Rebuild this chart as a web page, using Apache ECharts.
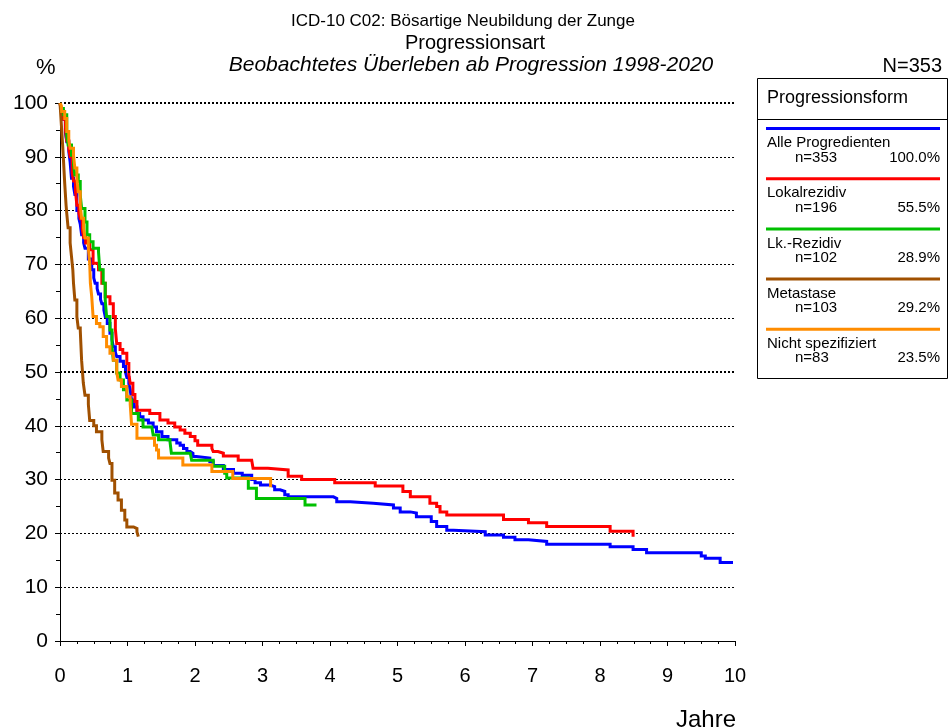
<!DOCTYPE html>
<html>
<head>
<meta charset="utf-8">
<script src="https://cdn.jsdelivr.net/npm/echarts@6/dist/echarts.min.js"></script>
<style>
  html, body { margin: 0; padding: 0; background: #fff; }
  #chart { width: 951px; height: 728px; }
</style>
</head>
<body>
<div id="chart"></div>
<script>
// Kaplan-Meier curves: [years since progression, % surviving]
const seriesNames = ['Alle Progredienten', 'Lokalrezidiv', 'Lk.-Rezidiv', 'Metastase', 'Nicht spezifiziert'];
const seriesCounts = ['n=353', 'n=196', 'n=102', 'n=103', 'n=83'];
const seriesShares = ['100.0%', '55.5%', '28.9%', '29.2%', '23.5%'];
const seriesColors = ['#0000ff', '#ff0000', '#00c000', '#a05000', '#ff8c00'];

const alle = [[0,100],[0.02,98.5],[0.05,97],[0.08,94.5],[0.1,92.8],[0.13,91],[0.15,89],[0.17,86],[0.2,84.5],[0.22,83],
  [0.25,80],[0.28,78.5],[0.3,77.5],[0.32,75.5],[0.35,74],[0.37,73],[0.42,71],[0.47,69],[0.5,67.5],[0.52,66.5],
  [0.55,65.5],[0.57,64.5],[0.6,63.5],[0.62,62.7],[0.65,61.5],[0.67,60.3],[0.7,59],[0.74,57.2],[0.77,56],[0.79,54.7],
  [0.82,53.7],[0.84,52.9],[0.89,52],[0.94,51],[0.97,50],[0.99,49],[1.02,47.8],[1.04,46.7],[1.06,44.8],[1.1,43.5],
  [1.14,42.3],[1.18,41.7],[1.23,41.1],[1.31,40.5],[1.38,39.8],[1.43,38.9],[1.51,38],[1.6,37.4],[1.73,36.8],[1.78,36.4],
  [1.83,35.8],[1.88,35.2],[1.93,34.9],[1.97,34.3],[2.02,34],[2.22,33.3],[2.27,32.6],[2.42,31.9],[2.57,31.2],[2.7,30.8],
  [2.84,30.0],[2.89,29.4],[2.97,29.0],[3.11,28.7],[3.18,28.1],[3.26,27.8],[3.33,27.2],[3.38,26.8],[4.05,26.5],[4.1,25.9],
  [4.3,25.6],[4.64,25.3],[4.94,24.7],[5.04,24.0],[5.19,23.8],[5.28,23.1],[5.5,22.2],[5.58,21.3],[5.73,20.6],[5.83,20.3],
  [6.3,19.7],[6.57,19.3],[6.74,18.8],[6.94,18.5],[7.21,18.0],[8.15,17.5],[8.49,17.0],[8.69,16.4],[9.5,15.8],[9.56,15.4],
  [9.78,14.6],[9.97,14.6]];

const lokalrezidiv = [[0,100],[0.02,98.5],[0.05,97],[0.08,95],[0.1,93],[0.13,91.5],[0.15,90],[0.18,87],[0.2,85.5],[0.23,83.5],
  [0.25,81],[0.28,79.5],[0.3,78.5],[0.33,76.5],[0.35,75],[0.38,74],[0.44,72.7],[0.49,70.2],[0.57,69],[0.62,66.5],
  [0.67,64],[0.74,62.7],[0.79,60.3],[0.82,58],[0.84,55.3],[0.89,54.2],[0.93,53.5],[0.99,51.6],[1.02,49.5],[1.04,47.9],
  [1.08,45.8],[1.11,44.5],[1.14,42.9],[1.33,42.3],[1.48,41.1],[1.6,40.5],[1.7,39.8],[1.78,39.2],[1.85,38.6],[1.93,38.0],
  [2.0,37.2],[2.04,36.4],[2.25,35.8],[2.27,35.2],[2.34,34.9],[2.42,34.4],[2.64,33.6],[2.84,33.3],[2.86,32.1],[3.08,31.8],
  [3.38,30.6],[3.58,30.0],[4.07,29.4],[4.67,28.8],[5.08,27.8],[5.19,26.8],[5.48,25.6],[5.58,25.0],[5.63,24.0],[5.73,23.4],
  [6.57,22.6],[6.94,22.0],[7.21,21.3],[8.15,20.4],[8.49,19.4]];

const lkRezidiv = [[0,100],[0.02,99],[0.05,97.8],[0.1,94],[0.12,92.2],[0.17,90.3],[0.2,88.5],[0.22,86.6],[0.27,85.4],[0.3,82.9],
  [0.32,80.4],[0.37,77.9],[0.4,75.5],[0.44,74.2],[0.49,73.0],[0.57,72.4],[0.59,69],[0.64,66.5],[0.67,63.4],[0.69,60.3],
  [0.74,57.8],[0.77,54.7],[0.79,52.2],[0.84,49.8],[0.89,48.5],[0.94,46.7],[0.99,44.8],[1.06,42.3],[1.16,41.1],[1.23,39.8],
  [1.36,39.5],[1.38,38.3],[1.46,37.4],[1.63,37.0],[1.65,34.9],[1.93,34.6],[1.95,33.6],[2.27,32.5],[2.44,31.2],[2.47,30.3],
  [2.79,28.4],[2.91,26.5],[3.63,25.3],[3.8,25.3]];

const metastase = [[0,100],[0.02,96],[0.04,92],[0.05,89.7],[0.07,85],[0.09,81],[0.1,79.5],[0.12,76.8],[0.15,74],[0.17,71.5],
  [0.19,69],[0.2,66.5],[0.22,63.4],[0.25,60.3],[0.27,58.2],[0.3,57.8],[0.31,55],[0.32,52.2],[0.345,48],[0.37,45.7],
  [0.42,44],[0.44,41],[0.5,40],[0.54,38.9],[0.62,37.4],[0.64,35.2],[0.72,34],[0.74,33],[0.77,29.9],[0.81,27.5],
  [0.86,26.2],[0.91,24.3],[0.96,22.5],[0.99,21.2],[1.09,20.9],[1.14,20.3],[1.16,19.4]];

const nichtSpezifiziert = [[0,100],[0.02,99.5],[0.025,98.4],[0.07,97.1],[0.1,94.7],[0.13,93],[0.15,91.6],[0.2,90.3],[0.22,87.9],[0.25,86],
  [0.27,83.5],[0.3,81],[0.32,78.6],[0.35,76.7],[0.37,74.9],[0.42,73],[0.44,70.2],[0.45,66.5],[0.47,64],[0.49,60.3],
  [0.54,59],[0.59,58.4],[0.64,56.6],[0.69,54.7],[0.74,53.5],[0.79,52.2],[0.84,50],[0.86,48.5],[0.91,47.3],[0.99,45.4],
  [1.04,44],[1.06,40.3],[1.14,37.7],[1.4,36.4],[1.43,35.5],[1.46,34.0],[1.82,32.7],[2.25,31.5],[2.56,30.2],[3.12,28.6]];

const curves = [alle, lokalrezidiv, lkRezidiv, metastase, nichtSpezifiziert];
const emphasisLines = [50, 100];

const FONT = '"Liberation Sans", Arial, sans-serif';
const chart = echarts.init(document.getElementById('chart'), null, { renderer: 'canvas' });

const series = curves.map((data, i) => ({
  name: seriesNames[i],
  type: 'line',
  step: 'end',
  data: data,
  showSymbol: false,
  symbol: 'none',
  lineStyle: { color: seriesColors[i], width: 3, join: 'miter', cap: 'butt' },
  itemStyle: { color: seriesColors[i] },
  z: 3 + i
}));
series[0].markLine = {
  silent: true,
  symbol: 'none',
  label: { show: false },
  lineStyle: { color: '#000', type: [2, 2], width: 2 },
  data: emphasisLines.map(v => ({ yAxis: v }))
};

// legend box drawn as graphic elements
const LF = '15px ' + FONT;
const legendEls = [
  { type: 'rect', shape: { x: 757.5, y: 78.5, width: 190, height: 300 }, style: { fill: '#fff', stroke: '#000', lineWidth: 1 }, z: 10 },
  { type: 'line', shape: { x1: 757.5, y1: 119.5, x2: 947.5, y2: 119.5 }, style: { stroke: '#000', lineWidth: 1 }, z: 11 },
  { type: 'text', x: 767, y: 98, style: { text: 'Progressionsform', font: '18px ' + FONT, fill: '#000', textVerticalAlign: 'middle' }, z: 11 }
];
seriesNames.forEach((nm, i) => {
  const y0 = 128.5 + i * 50.2;
  legendEls.push(
    { type: 'line', shape: { x1: 766, y1: y0, x2: 940, y2: y0 }, style: { stroke: seriesColors[i], lineWidth: 3 }, z: 11 },
    { type: 'text', x: 767, y: y0 + 14.5, style: { text: nm, font: LF, fill: '#000', textVerticalAlign: 'middle' }, z: 11 },
    { type: 'text', x: 795, y: y0 + 29, style: { text: seriesCounts[i], font: LF, fill: '#000', textVerticalAlign: 'middle' }, z: 11 },
    { type: 'text', x: 940, y: y0 + 29, style: { text: seriesShares[i], font: LF, fill: '#000', textAlign: 'right', textVerticalAlign: 'middle' }, z: 11 }
  );
});

const option = {
  animation: false,
  backgroundColor: '#fff',
  title: [
    { text: 'ICD-10 C02: Bösartige Neubildung der Zunge', left: 458, top: 8, textAlign: 'center',
      textStyle: { fontFamily: FONT, fontSize: 17, fontWeight: 'normal', color: '#000' } },
    { text: 'Progressionsart', left: 470, top: 28, textAlign: 'center',
      textStyle: { fontFamily: FONT, fontSize: 20, fontWeight: 'normal', color: '#000' } },
    { text: 'Beobachtetes Überleben ab Progression 1998-2020', left: 466, top: 50, textAlign: 'center',
      textStyle: { fontFamily: FONT, fontSize: 21, fontWeight: 'normal', fontStyle: 'italic', color: '#000' } },
    { text: 'N=353', right: 4, top: 51,
      textStyle: { fontFamily: FONT, fontSize: 20, fontWeight: 'normal', color: '#000' } },
    { text: '%', left: 31, top: 52,
      textStyle: { fontFamily: FONT, fontSize: 22, fontWeight: 'normal', color: '#000' } },
    { text: 'Jahre', left: 671, top: 703,
      textStyle: { fontFamily: FONT, fontSize: 24, fontWeight: 'normal', color: '#000' } }
  ],
  grid: { left: 60, right: 216, top: 103, bottom: 87, containLabel: false },
  xAxis: {
    type: 'value', min: 0, max: 10, interval: 1, offset: 9,
    axisLine: { show: true, lineStyle: { color: '#000', width: 1 } },
    axisTick: { show: true, length: 5, lineStyle: { color: '#000' } },
    minorTick: { show: true, splitNumber: 4, length: 3, lineStyle: { color: '#000' } },
    axisLabel: { color: '#000', fontFamily: FONT, fontSize: 20, margin: 16 },
    splitLine: { show: false }
  },
  yAxis: {
    type: 'value', min: 0, max: 100, interval: 10, offset: 4,
    axisLine: { show: true, lineStyle: { color: '#000', width: 1 } },
    axisTick: { show: true, length: 5, lineStyle: { color: '#000' } },
    minorTick: { show: true, splitNumber: 2, length: 4, lineStyle: { color: '#000' } },
    axisLabel: { color: '#000', fontFamily: FONT, fontSize: 21, margin: 8 },
    splitLine: { show: true, showMinLine: false, lineStyle: { color: '#000', type: [2, 2], width: 1 } }
  },
  graphic: legendEls,
  series: series
};
chart.setOption(option);
</script>
</body>
</html>
